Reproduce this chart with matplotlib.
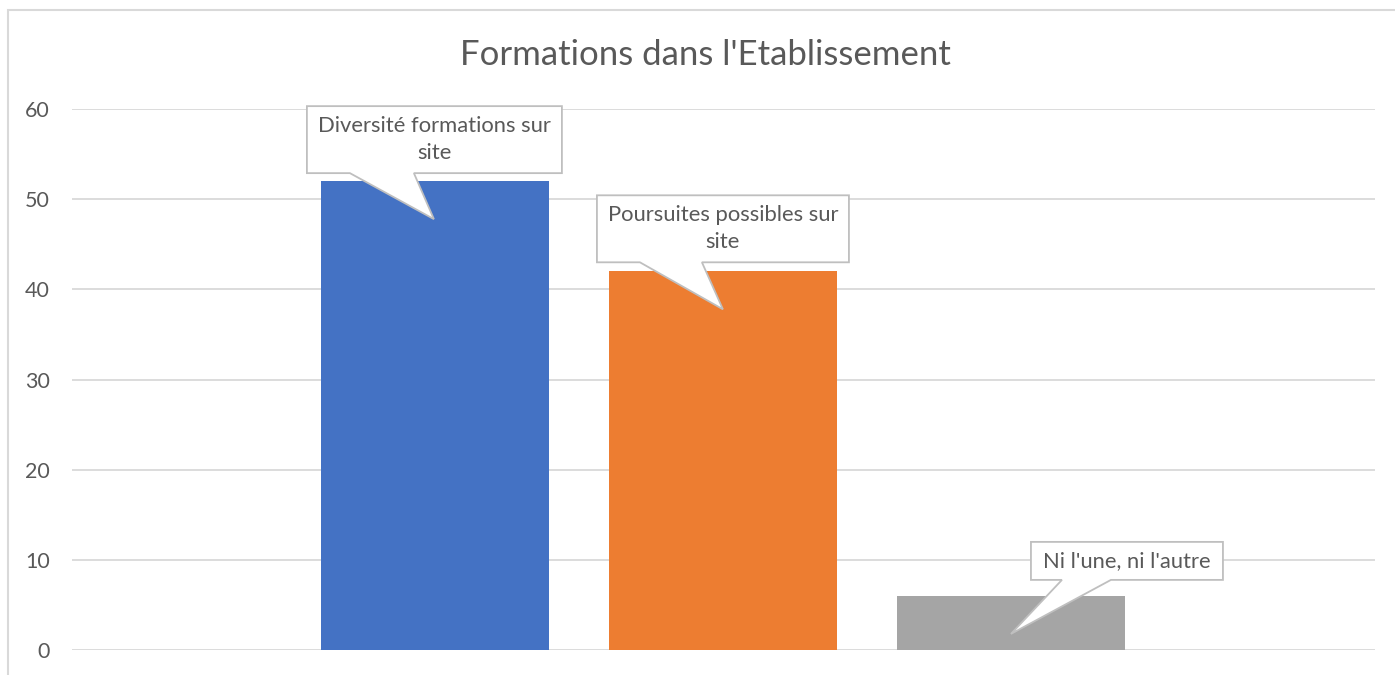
import matplotlib
matplotlib.use("Agg")
import matplotlib.pyplot as plt
import matplotlib.transforms as mtransforms
from matplotlib.patches import Polygon, Rectangle

plt.rcParams['font.family'] = ['Lato', 'DejaVu Sans']

# data
labels = ["Diversité formations sur\nsite", "Poursuites possibles sur\nsite", "Ni l'une, ni l'autre"]
values = [52, 42, 6]
colors = ["#4472C4", "#ED7D31", "#A5A5A5"]
yticks = [0, 10, 20, 30, 40, 50, 60]
title = "Formations dans l'Etablissement"

# callout shapes in pixels relative to bar top (x right, y down): box l, r, t, b, base l, base r, tip
callouts = [
    (-128, 127, -75, -8, -85, -21, (-1, 38)),
    (-126, 126, -76, -9, -83, -21, (0, 38)),
    (20, 212, -54, -16, 51, 100, (0, 38)),
]

fig = plt.figure(figsize=(13.95, 6.75), dpi=100)
ax = fig.add_axes([72 / 1395, 25 / 675, 1303 / 1395, 541 / 675])

# chart border
fig.patches.append(Rectangle((8 / 1395, -0.1), 1.2, (665 / 675) + 0.1, transform=fig.transFigure,
                             fill=False, edgecolor="#D9D9D9", linewidth=1.5))

xs = list(range(len(values)))
ax.bar(xs, values, width=228 / 288, color=colors, zorder=2)
ax.set_xlim(-1.26, 3.264)
ax.set_ylim(0, 60)
ax.set_yticks(yticks)
ax.set_xticks([])
ax.grid(axis="y", color="#D9D9D9", linewidth=1.3, zorder=0)
for s in ax.spines.values():
    s.set_visible(False)
ax.tick_params(axis="y", length=0, pad=16, labelsize=15.5, labelcolor="#595959")

fig.text(705 / 1395, 1 - 55 / 675, title, ha="center", va="center", fontsize=25, color="#595959")

for x, v, lab, c in zip(xs, values, labels, callouts):
    l, r, t, b, bl, br, tip = c
    tr = mtransforms.Affine2D().scale(1, -1) + mtransforms.ScaledTranslation(x, v, ax.transData)
    verts = [(l, t), (r, t), (r, b), (br, b), tip, (bl, b), (l, b)]
    ax.add_patch(Polygon(verts, closed=True, transform=tr, facecolor="white",
                         edgecolor="#BFBFBF", linewidth=1.3, zorder=3, clip_on=False))
    ax.text((l + r) / 2, (t + b) / 2, lab, transform=tr, ha="center", va="center",
            fontsize=15.8, color="#595959", linespacing=1.45, zorder=4)

fig.savefig("out.png", dpi=100)
